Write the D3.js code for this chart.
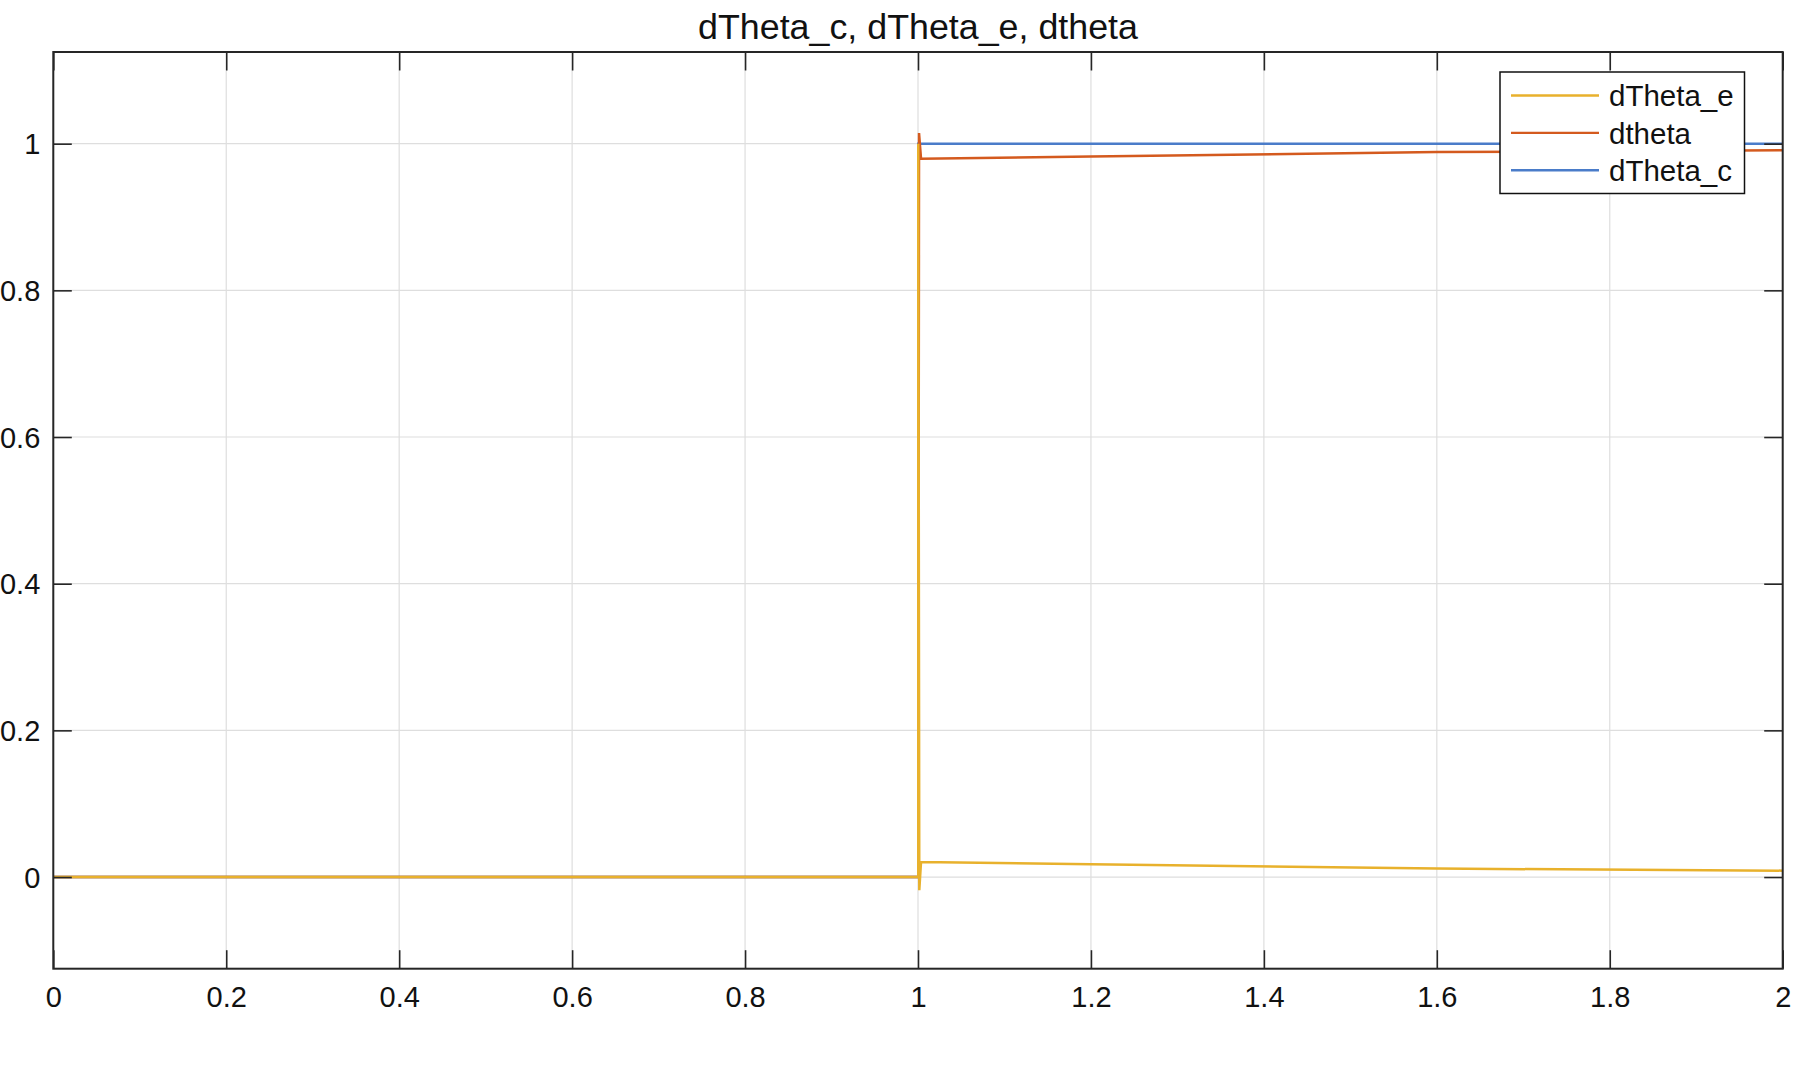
<!DOCTYPE html>
<html>
<head>
<meta charset="utf-8">
<script src="https://cdn.jsdelivr.net/npm/d3@7"></script>
<style>
  body { margin: 0; background: #fff; }
  text { font-family: "Liberation Sans", Arial, Helvetica, sans-serif; fill: #111; }
</style>
</head>
<body>
<svg id="chart" width="1816" height="1070"></svg>
<script>
// values
const titleText = "dTheta_c, dTheta_e, dtheta";

const tC = [0, 1.0003, 1.0003, 2];
const dThetaC = [0, 0, 1, 1];

const tTheta = [0, 1.0003, 1.0012, 1.0035, 1.2, 1.6, 2];
const dtheta = [0, 0, 1.0145, 0.9795, 0.9825, 0.9885, 0.991];

const tE = [0, 1.0003, 1.0003, 1.0015, 1.0035, 1.2, 1.6, 2];
const dThetaE = [0, 0, 1, -0.018, 0.0205, 0.0175, 0.0115, 0.0087];

const xTicks = [0, 0.2, 0.4, 0.6, 0.8, 1, 1.2, 1.4, 1.6, 1.8, 2];
const xTickLabels = ["0", "0.2", "0.4", "0.6", "0.8", "1", "1.2", "1.4", "1.6", "1.8", "2"];
const yTicks = [0, 0.2, 0.4, 0.6, 0.8, 1];
const yTickLabels = ["0", "0.2", "0.4", "0.6", "0.8", "1"];

const legendNames = ["dTheta_e", "dtheta", "dTheta_c"];

const colors = {
    c: "#4a7cc9",
    theta: "#d45a1e",
    e: "#e8b12c"
};

const margin = { left: 53.3, top: 52, right: 1816 - 1782.7, bottom: 1070 - 968.7 };
const width = 1816 - margin.left - margin.right;
const height = 1070 - margin.top - margin.bottom;
const tickLen = 18.5;

let svg = d3.select('#chart');

let xscale = d3.scaleLinear()
    .domain([0, 2])
    .range([0, width]);

let yscale = d3.scaleLinear()
    .domain([-0.125, 1.125])
    .range([height, 0]);

let g = svg.append('g')
    .attr('transform', `translate(${margin.left}, ${margin.top})`);

// grid
g.append('g').selectAll('line')
    .data(xTicks)
    .join('line')
    .attr('x1', d => xscale(d)).attr('x2', d => xscale(d))
    .attr('y1', 0).attr('y2', height)
    .attr('stroke', '#dedede')
    .attr('stroke-width', 1.2);

g.append('g').selectAll('line')
    .data(yTicks)
    .join('line')
    .attr('x1', 0).attr('x2', width)
    .attr('y1', d => yscale(d)).attr('y2', d => yscale(d))
    .attr('stroke', '#dedede')
    .attr('stroke-width', 1.2);

// series, drawn blue -> orange -> yellow so yellow sits on top
svg.append('clipPath').attr('id', 'plotClip')
    .append('rect').attr('width', width).attr('height', height);

let lineGen = d3.line()
    .x(d => xscale(d[0]))
    .y(d => yscale(d[1]));

let series = [
    { t: tC, v: dThetaC, color: colors.c },
    { t: tTheta, v: dtheta, color: colors.theta },
    { t: tE, v: dThetaE, color: colors.e }
];

let plot = g.append('g').attr('clip-path', 'url(#plotClip)');
series.forEach(s => {
    plot.append('path')
        .datum(s.t.map((t, i) => [t, s.v[i]]))
        .attr('d', lineGen)
        .attr('fill', 'none')
        .attr('stroke', s.color)
        .attr('stroke-width', 2.5)
        .attr('stroke-linejoin', 'miter');
});

// axes, ticks pointing inward on all four sides
let xaxis = d3.axisBottom(xscale)
    .tickValues(xTicks)
    .tickFormat((d, i) => xTickLabels[i])
    .tickSizeInner(-tickLen).tickSizeOuter(0);

let xAxisG = g.append('g')
    .attr('transform', `translate(0, ${height})`)
    .call(xaxis);
xAxisG.selectAll('text')
    .attr('y', 38).attr('dy', 0)
    .style('font-size', '29px');

g.append('g')
    .call(d3.axisTop(xscale).tickValues(xTicks).tickFormat('')
        .tickSizeInner(-tickLen).tickSizeOuter(0));

let yaxis = d3.axisLeft(yscale)
    .tickValues(yTicks)
    .tickFormat((d, i) => yTickLabels[i])
    .tickSizeInner(-tickLen).tickSizeOuter(0);

let yAxisG = g.append('g').call(yaxis);
yAxisG.selectAll('text')
    .attr('x', -13).attr('dy', '0.35em')
    .style('font-size', '29px');

g.append('g')
    .attr('transform', `translate(${width}, 0)`)
    .call(d3.axisRight(yscale).tickValues(yTicks).tickFormat('')
        .tickSizeInner(-tickLen).tickSizeOuter(0));

g.selectAll('.domain').remove();
g.selectAll('.tick line').attr('stroke', '#262626').attr('stroke-width', 1.6);
g.selectAll('.tick text').attr('fill', '#111');

g.append('rect')
    .attr('width', width).attr('height', height)
    .attr('fill', 'none')
    .attr('stroke', '#262626')
    .attr('stroke-width', 2);

// title
svg.append('text')
    .attr('x', margin.left + width / 2)
    .attr('y', 39)
    .attr('text-anchor', 'middle')
    .style('font-size', '35.8px')
    .text(titleText);

// legend
let legend = svg.append('g').attr('transform', 'translate(1500, 72)');
legend.append('rect')
    .attr('width', 244.5).attr('height', 121.5)
    .attr('fill', '#fff')
    .attr('stroke', '#111')
    .attr('stroke-width', 1.5);

let legendColors = [colors.e, colors.theta, colors.c];
legendNames.forEach((name, i) => {
    let y = 23.5 + i * 37.4;
    legend.append('line')
        .attr('x1', 11).attr('x2', 99)
        .attr('y1', y).attr('y2', y)
        .attr('stroke', legendColors[i])
        .attr('stroke-width', 2.4);
    legend.append('text')
        .attr('x', 109).attr('y', y)
        .attr('dy', '0.36em')
        .style('font-size', '29.5px')
        .text(name);
});
</script>
</body>
</html>
